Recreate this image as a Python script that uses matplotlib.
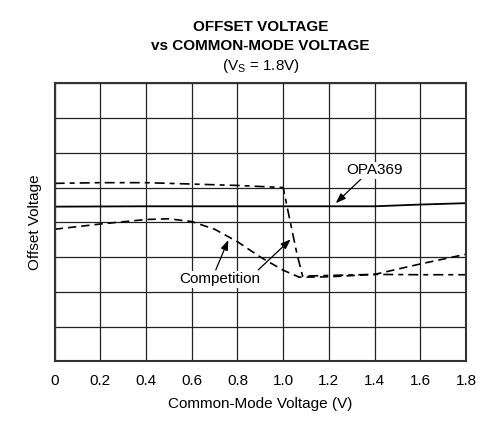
import matplotlib
matplotlib.use("Agg")
import matplotlib.pyplot as plt

plt.rcParams['font.family'] = ['Liberation Sans', 'DejaVu Sans']

# common-mode voltage (V) and offset voltage in grid divisions (no scale given)
opa_x = [0.0, 0.4, 0.8, 1.2, 1.4, 1.6, 1.8]
opa_y = [4.45, 4.46, 4.46, 4.46, 4.46, 4.51, 4.55]

comp1_x = [0.0, 0.2, 0.4, 0.6, 0.8, 1.0, 1.03, 1.06, 1.085, 1.2, 1.4, 1.6, 1.8]
comp1_y = [5.12, 5.14, 5.14, 5.1, 5.06, 5.0, 4.04, 3.1, 2.45, 2.47, 2.5, 2.49, 2.49]

comp2_x = [0.0, 0.2, 0.4, 0.5, 0.6, 0.7, 0.8, 0.9, 1.0, 1.07, 1.2, 1.4, 1.6, 1.8]
comp2_y = [3.8, 3.95, 4.08, 4.1, 4.02, 3.8, 3.44, 3.0, 2.62, 2.42, 2.43, 2.5, 2.8, 3.08]

xticks = [0, 0.2, 0.4, 0.6, 0.8, 1.0, 1.2, 1.4, 1.6, 1.8]
xtick_labels = ['0', '0.2', '0.4', '0.6', '0.8', '1.0', '1.2', '1.4', '1.6', '1.8']

fig = plt.figure(figsize=(5.03, 4.25), dpi=100)
ax = fig.add_subplot(111)
fig.subplots_adjust(left=0.1087, right=0.9264, bottom=0.150, top=0.804)

ax.plot(opa_x, opa_y, color='black', linewidth=1.3)
ax.plot(comp1_x, comp1_y, color='black', linewidth=1.2, dashes=(6, 3, 3, 3))
ax.plot(comp2_x, comp2_y, color='black', linewidth=1.2, dashes=(5, 3))

ax.set_xlim(0, 1.8)
ax.set_ylim(0, 8)
ax.set_xticks(xticks)
ax.set_xticklabels(xtick_labels)
ax.set_yticks(range(0, 9))
ax.set_yticklabels([])
ax.tick_params(length=0, labelsize=11, pad=9)
ax.grid(True, color='#222222', linewidth=0.9)
for s in ax.spines.values():
    s.set_linewidth(1.5)
    s.set_color('#333333')

ax.set_xlabel('Common-Mode Voltage (V)', fontsize=11, labelpad=7)
ax.set_ylabel('Offset Voltage', fontsize=11)
ax.yaxis.set_label_coords(-0.031, 0.5)

fig.text(0.518, 0.936, 'OFFSET VOLTAGE', ha='center', va='center',
         fontsize=11, fontweight='bold')
fig.text(0.518, 0.892, 'vs COMMON-MODE VOLTAGE', ha='center', va='center',
         fontsize=11, fontweight='bold')
fig.text(0.518, 0.845, r'(V$_\mathregular{S}$ = 1.8V)', ha='center', va='center',
         fontsize=11)

arrow = dict(arrowstyle='-|>,head_length=0.6,head_width=0.22', color='black',
             linewidth=0.9, shrinkA=0, shrinkB=0)
ax.annotate('', xy=(1.23, 4.55), xytext=(1.34, 5.24), arrowprops=arrow)
ax.text(1.40, 5.5, 'OPA369', ha='center', va='center', fontsize=11,
        bbox=dict(facecolor='white', edgecolor='none', pad=1))

ax.annotate('', xy=(0.76, 3.49), xytext=(0.705, 2.63), arrowprops=arrow)
ax.annotate('', xy=(1.033, 3.51), xytext=(0.891, 2.63), arrowprops=arrow)
ax.text(0.724, 2.36, 'Competition', ha='center', va='center', fontsize=11,
        bbox=dict(facecolor='white', edgecolor='none', pad=1))

fig.savefig('out.png', dpi=100)
